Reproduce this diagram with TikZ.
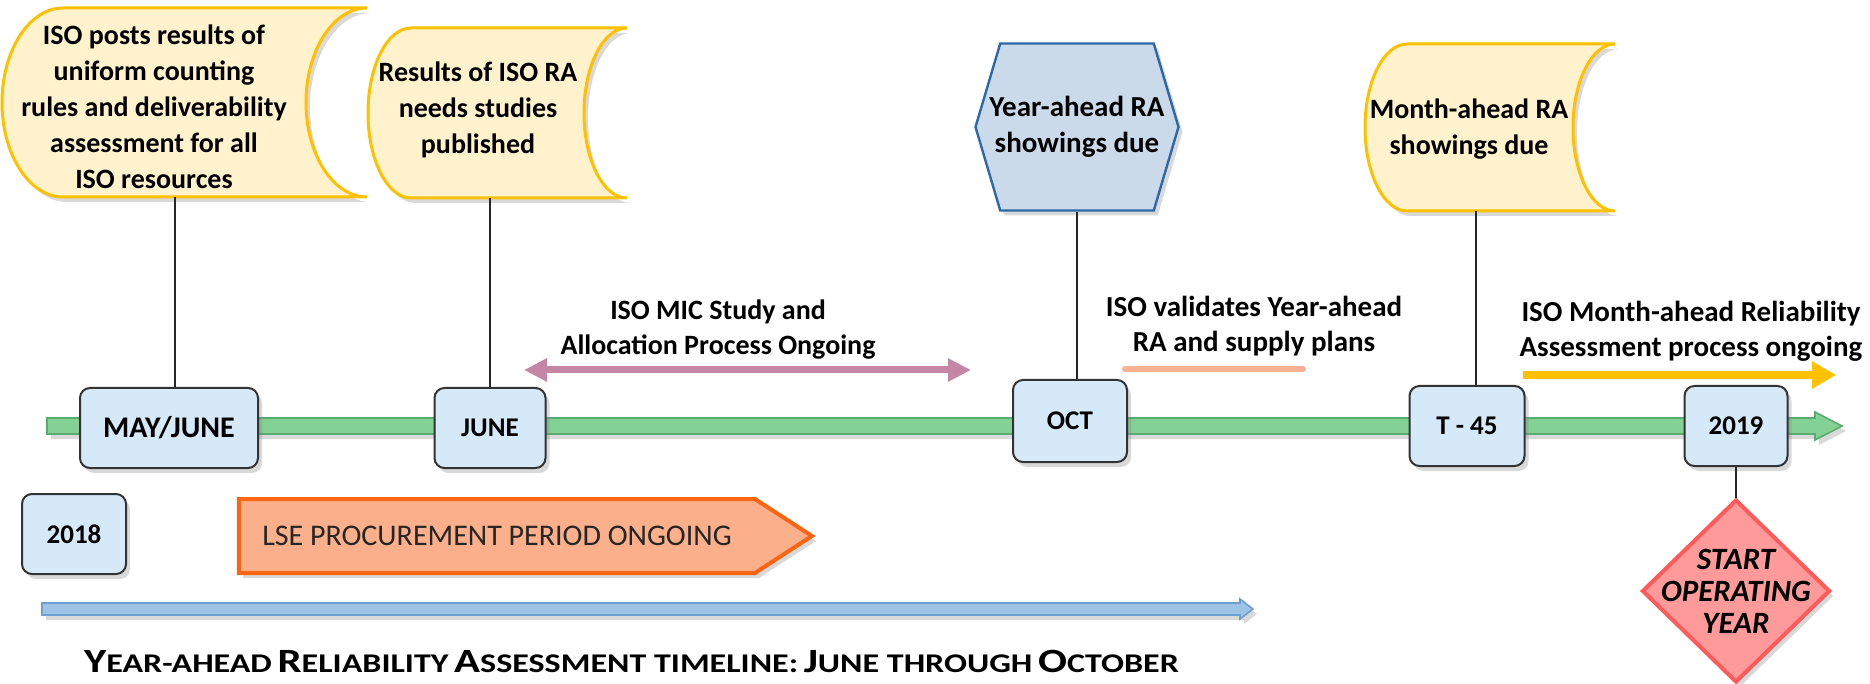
\documentclass[tikz,border=0pt]{standalone}
\usepackage{fontspec}
\setmainfont{Carlito}
\usepackage{xcolor}
\usepackage{graphicx}
\usetikzlibrary{shapes.geometric,shapes.symbols,shadows,arrows.meta}

\definecolor{notefill}{HTML}{FFF2CC}
\definecolor{notedraw}{HTML}{FFC000}
\definecolor{hexfill}{HTML}{CADAEA}
\definecolor{hexdraw}{HTML}{2E68A8}
\definecolor{datefill}{HTML}{D5E9F8}
\definecolor{datedraw}{HTML}{333333}
\definecolor{greenfill}{HTML}{84D196}
\definecolor{greendraw}{HTML}{5BAA70}
\definecolor{bluefill}{HTML}{9DC3E6}
\definecolor{bluedraw}{HTML}{6F9FD0}
\definecolor{micpink}{HTML}{C586A5}
\definecolor{salmon}{HTML}{F8B293}
\definecolor{gold}{HTML}{FFC000}
\definecolor{lsefill}{HTML}{FBB08B}
\definecolor{lsedraw}{HTML}{F96512}
\definecolor{startfill}{HTML}{FF9A9A}
\definecolor{startdraw}{HTML}{FF5A5A}

\newcommand{\tcap}[1]{{\fontsize{17}{20}\selectfont #1}}
\newcommand{\tsml}[1]{{\fontsize{13.5}{20}\selectfont #1}}

\begin{document}
\begin{tikzpicture}[x=0.5pt, y=-0.5pt,
      dropsh/.style={drop shadow={shadow xshift=2pt, shadow yshift=-2.5pt, opacity=0.3}},
      notebox/.style={draw=notedraw, fill=notefill, line width=1.5pt, dropsh},
      notetext/.style={align=center, font=\bfseries\fontsize{14}{18}\selectfont},
      datebox/.style={rectangle, rounded corners=5pt, draw=datedraw, fill=datefill,
        line width=1pt, minimum height=40pt, dropsh,
        font=\bfseries\fontsize{13.5}{16}\selectfont},
      stemline/.style={draw=black!85, line width=1pt},
      flowtext/.style={align=center, font=\bfseries\fontsize{14}{17.5}\selectfont}
      ]
      \useasboundingbox (0,0) rectangle (1870,684);

      \draw[draw=greendraw, fill=greenfill, line width=0.8pt, dropsh]
        (47,418) -- (1815,418) -- (1815,412) -- (1842,426) -- (1815,440)
        -- (1815,434) -- (47,434) -- cycle;

      \node[datebox, minimum width=89pt, font=\bfseries\fontsize{15}{16}\selectfont] (mayjune) at (169,428) {MAY/JUNE};
      \node[datebox, minimum width=55.5pt] (june) at (490,428) {JUNE};
      \node[datebox, minimum width=57pt, minimum height=41pt] (oct) at (1070,421) {OCT};
      \node[datebox, minimum width=57.5pt] (tminus) at (1467,426) {T - 45};
      \node[datebox, minimum width=51.5pt] (y2019) at (1736,426) {2019};
      \node[datebox, minimum width=52pt] (y2018) at (74,534) {2018};

      \draw[notebox] (63,8) -- (367,8)
        arc[start angle=90, end angle=270, x radius=30.5pt, y radius=47.25pt]
        -- (63,197)
        arc[start angle=270, end angle=90, x radius=30.5pt, y radius=47.25pt]
        -- cycle;
      \node[notetext] (posts) at (154,107)
        {ISO posts results of\\uniform counting\\rules and deliverability\\assessment for all\\ISO resources};
      \coordinate (postsb) at (175,197);

      \draw[notebox] (411,28) -- (627,28)
        arc[start angle=90, end angle=270, x radius=21.5pt, y radius=42.5pt]
        -- (411,198)
        arc[start angle=270, end angle=90, x radius=21.5pt, y radius=42.5pt]
        -- cycle;
      \node[notetext] (needs) at (478,110) {Results of ISO RA\\needs studies\\published};
      \coordinate (needsb) at (490,198);

      \node[signal, signal to=west and east, signal pointer angle=147,
        draw=hexdraw, fill=hexfill, line width=1.2pt, inner sep=0pt,
        minimum width=101.5pt, minimum height=83.5pt, dropsh,
        label={[notetext, font=\bfseries\fontsize{14.5}{18}\selectfont]center:{Year-ahead RA\\showings due}}]
        (yahead) at (1077,127) {};

      \draw[notebox] (1407,44) -- (1615,44)
        arc[start angle=90, end angle=270, x radius=21pt, y radius=41.75pt]
        -- (1407,211)
        arc[start angle=270, end angle=90, x radius=21pt, y radius=41.75pt]
        -- cycle;
      \node[notetext] (mahead) at (1469,129) {Month-ahead RA\\showings due};
      \coordinate (maheadb) at (1476,211);

      \node[diamond, draw=startdraw, fill=startfill, line width=2pt, inner sep=0pt,
        minimum width=94pt, minimum height=91.5pt, dropsh,
        label={[align=center, font=\bfseries\itshape\fontsize{15.5}{16}\selectfont]center:{START\\OPERATING\\YEAR}}]
        (start) at (1736,591) {};

      \draw[stemline] (postsb) -- (postsb |- mayjune.north);
      \draw[stemline] (needsb) -- (needsb |- june.north);
      \draw[stemline] (yahead.south) -- (yahead.south |- oct.north);
      \draw[stemline] (maheadb) -- (maheadb |- tminus.north);
      \draw[stemline] (y2019.south) -- (start.north);

      \node[flowtext] (mic) at (718,330) {ISO MIC Study and\\Allocation Process Ongoing};
      \coordinate (mica) at (524,370);
      \coordinate (micb) at (971,370);
      \draw[draw=micpink, line width=3.5pt,
        {Triangle[length=11.5pt,width=11pt]}-{Triangle[length=11.5pt,width=11pt]}] (mica) -- (micb);

      \node[flowtext, font=\bfseries\fontsize{14.5}{17.5}\selectfont] (valid) at (1254,326)
        {ISO validates Year-ahead\\RA and supply plans};
      \coordinate (valida) at (1125,369);
      \coordinate (validb) at (1303,369);
      \draw[draw=salmon, line width=3pt, line cap=round] (valida) -- (validb);

      \node[flowtext, font=\bfseries\fontsize{14.5}{17.5}\selectfont] (mrel) at (1691,331)
        {ISO Month-ahead Reliability\\Assessment process ongoing};
      \coordinate (mrela) at (1523,375);
      \coordinate (mrelb) at (1836,375);
      \draw[draw=gold, line width=4pt, -{Triangle[length=12pt,width=13pt]}] (mrela) -- (mrelb);

      \node[signal, signal to=east, signal pointer angle=66, draw=lsedraw, fill=lsefill,
        line width=2pt, minimum width=286.5pt, minimum height=37pt, dropsh,
        text=black!85, font=\fontsize{15}{18}\selectfont] (lse) at (497,536)
        {LSE PROCUREMENT PERIOD ONGOING};

      \draw[draw=bluedraw, fill=bluefill, line width=0.8pt, dropsh]
        (42,603) -- (1240,603) -- (1240,599) -- (1253,609) -- (1240,619)
        -- (1240,615) -- (42,615) -- cycle;

      \node[anchor=west, font=\bfseries] (title) at (77,661)
        {\scalebox{1.26}[1]{\tcap{Y}\tsml{EAR-AHEAD} \tcap{R}\tsml{ELIABILITY} \tcap{A}\tsml{SSESSMENT TIMELINE:}
         \tcap{J}\tsml{UNE THROUGH} \tcap{O}\tsml{CTOBER}}};
    \end{tikzpicture}
\end{document}
